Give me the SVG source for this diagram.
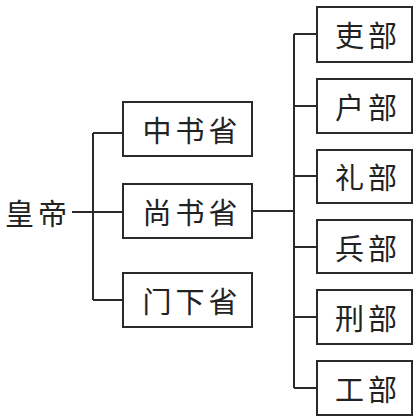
<svg xmlns="http://www.w3.org/2000/svg" width="418" height="418" viewBox="0 0 418 418">
<style>
.box{fill:#fff;stroke:#2a2a2a;stroke-width:2}
.ln{fill:none;stroke:#2a2a2a;stroke-width:2}
text{font-family:"Noto Sans CJK SC","Noto Sans CJK TC",sans-serif;font-size:29px;fill:#222;text-anchor:middle;dominant-baseline:central;letter-spacing:4px}
</style>
<rect width="418" height="418" fill="#fff"/>
<g id="connectors">
<path class="ln" d="M72 212H123M93 133V300M93 133H123M93 300H123"/>
<path class="ln" d="M252 211H294M294 34V388M294 34H317M294 106H317M294 176H317M294 247H317M294 317H317M294 388H317"/>
</g>
<g id="huangdi"><text x="38" y="212">皇帝</text></g>
<g id="zhongshu"><rect class="box" x="123" y="102" width="129" height="54"/><text x="192" y="129">中书省</text></g>
<g id="shangshu"><rect class="box" x="123" y="184" width="129" height="54"/><text x="192" y="211">尚书省</text></g>
<g id="menxia"><rect class="box" x="123" y="273" width="129" height="54"/><text x="192" y="300">门下省</text></g>
<g id="li"><rect class="box" x="317" y="7" width="95" height="55"/><text x="368" y="34">吏部</text></g>
<g id="hu"><rect class="box" x="317" y="79" width="95" height="54"/><text x="368" y="106">户部</text></g>
<g id="li2"><rect class="box" x="317" y="150" width="95" height="53"/><text x="368" y="176">礼部</text></g>
<g id="bing"><rect class="box" x="317" y="220" width="95" height="53"/><text x="368" y="247">兵部</text></g>
<g id="xing"><rect class="box" x="317" y="290" width="95" height="54"/><text x="368" y="317">刑部</text></g>
<g id="gong"><rect class="box" x="317" y="361" width="95" height="54"/><text x="368" y="388">工部</text></g>
</svg>
